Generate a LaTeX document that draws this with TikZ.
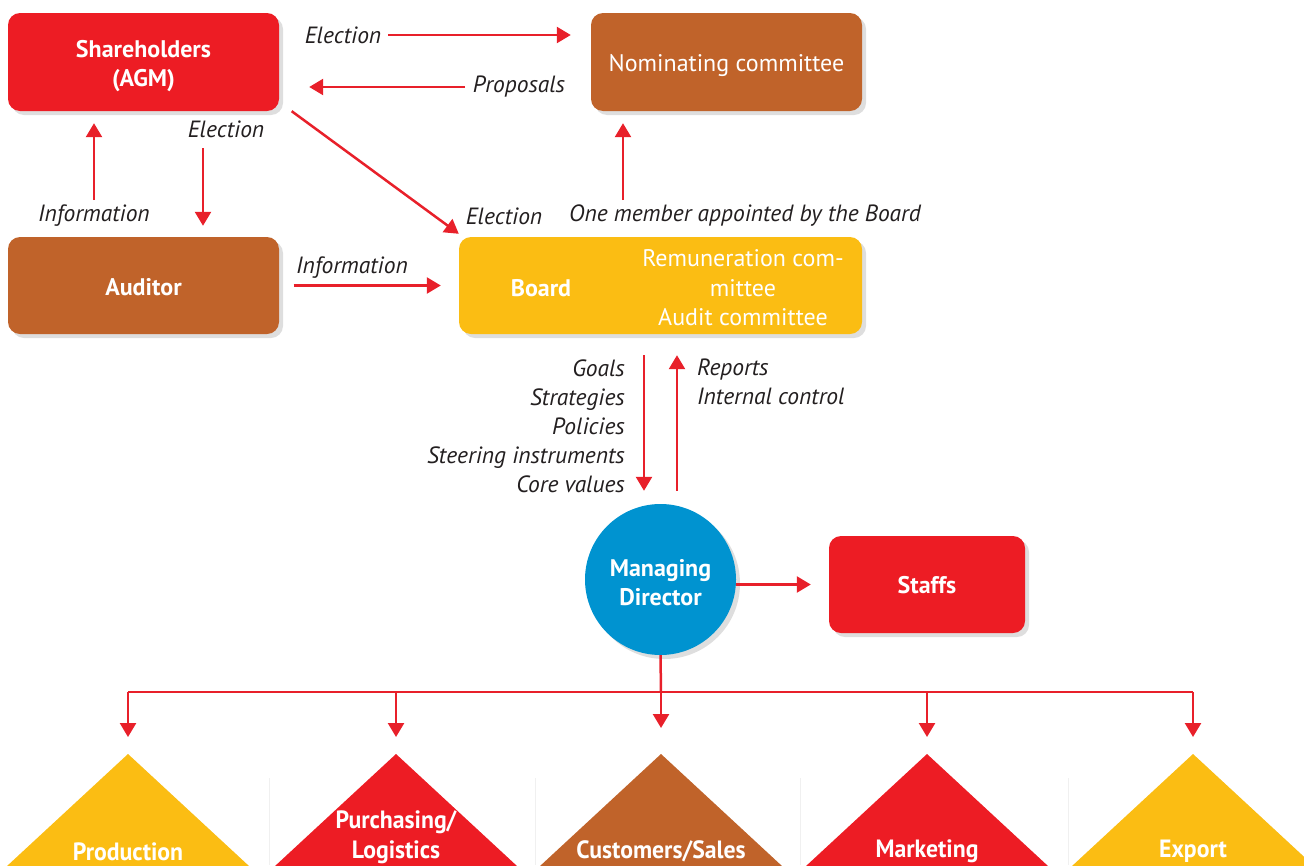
\documentclass[tikz,border=0pt]{standalone}
\usepackage{fontspec}
\setmainfont{PT Sans}
\newfontfamily\condfont[FakeStretch=0.95]{PT Sans}
\usetikzlibrary{arrows.meta,shadows}
\definecolor{cred}{HTML}{ED1C24}
\definecolor{cbrown}{HTML}{C0632A}
\definecolor{cyellow}{HTML}{FBBD13}
\definecolor{cblue}{HTML}{0093D0}
\definecolor{ctext}{HTML}{231F20}
\definecolor{carrow}{HTML}{E8202A}
\tikzset{
  shad/.style={drop shadow={shadow xshift=4pt,shadow yshift=-4pt,opacity=0.13,fill=black}},
  boxnode/.style={rounded corners=12pt, shad, inner sep=0pt},
  boldtxt/.style={text=white, align=center, font=\fontsize{24}{29}\selectfont\bfseries, inner sep=0pt},
  regtxt/.style={text=white, align=center, font=\fontsize{24}{29.5}\selectfont, inner sep=0pt},
  tritxt/.style={text=white, align=center, font=\fontsize{25}{30}\selectfont\condfont\bfseries, inner sep=0pt},
  lab/.style={text=ctext, font=\fontsize{23.5}{29}\selectfont\itshape, inner sep=0pt},
  conn/.style={draw=carrow, line width=2.5pt, -{Triangle[width=16pt,length=14pt]}},
  plainline/.style={draw=carrow, line width=2.5pt},
}
\begin{document}
\begin{tikzpicture}[x=1pt,y=-1pt]
\useasboundingbox (0,0) rectangle (1304,865);
\clip (0,0) rectangle (1304,865);

% boxes
\node[boxnode, fill=cred, minimum width=271pt, minimum height=98pt] (sh) at (143.5,62) {};
\node[boldtxt] (sht) at (143.5,66) {Shareholders\\(AGM)};
\node[boxnode, fill=cbrown, minimum width=271pt, minimum height=98pt] (nc) at (726.5,62) {};
\node[regtxt] (nct) at (726.5,66) {Nominating committee};
\node[boxnode, fill=cbrown, minimum width=271pt, minimum height=97pt] (au) at (143.5,285.5) {};
\node[boldtxt] (aut) at (143.5,287.5) {Auditor};
\node[boxnode, fill=cyellow, minimum width=403pt, minimum height=97pt] (bd) at (660.5,285.5) {};
\node[boldtxt] (bdl) at (541,288) {Board};
\node[regtxt] (bdc) at (743,288) {Remuneration com-\\mittee\\Audit committee};
\node[boxnode, fill=cred, minimum width=196pt, minimum height=97pt] (st) at (927,584.5) {};
\node[boldtxt] (stt) at (927,585.5) {Staffs};
\node[circle, fill=cblue, minimum size=151pt, shad, inner sep=0pt] (md) at (660.5,579.5) {};
\node[boldtxt] (mdt) at (660.5,582.5) {Managing\\Director};

% faint dividers
\foreach \xx in {269,535,800,1068} \draw[black!6, line width=1pt] (\xx,778) -- (\xx,865);

% triangles
\coordinate (t1) at (128,754);
\coordinate (t2) at (396,754);
\coordinate (t3) at (661,754);
\coordinate (t4) at (927,754);
\coordinate (t5) at (1193,754);
\fill[cyellow, shad] (t1) -- ++(-162,150) -- ++(324,0) -- cycle;
\fill[cred, shad] (t2) -- ++(-162,150) -- ++(324,0) -- cycle;
\fill[cbrown, shad] (t3) -- ++(-162,150) -- ++(324,0) -- cycle;
\fill[cred, shad] (t4) -- ++(-162,150) -- ++(324,0) -- cycle;
\fill[cyellow, shad] (t5) -- ++(-162,150) -- ++(324,0) -- cycle;
\node[tritxt] (p1) at (128,851.5) {Production};
\node[tritxt] (p2) at (396,837) {Purchasing/\\Logistics};
\node[tritxt] (p3) at (661,851.5) {Customers/Sales};
\node[tritxt] (p4) at (927,851.5) {Marketing};
\node[tritxt] (p5) at (1193,851.5) {Export};

% labels
\node[lab] (l1) at (343,35) {Election};
\node[lab] (l2) at (519,87) {Proposals};
\node[lab] (l3) at (226,129) {Election};
\node[lab] (l4) at (94,216) {Information};
\node[lab] (l5) at (504,216) {Election};
\node[lab] (l6) at (745,216) {One member appointed by the Board};
\node[lab] (l7) at (352,268) {Information};
\node[lab, align=right, anchor=east] (l8) at (625,426) {Goals\\Strategies\\Policies\\Steering instruments\\Core values};
\node[lab, align=left, anchor=west] (l9) at (697,382) {Reports\\Internal control};

% connectors
\coordinate (c1) at (388,35);
\draw[conn, shorten >=20pt] (c1) -- (c1 -| nc.west);
\coordinate (c2) at (465,87);
\draw[conn, shorten >=30pt] (c2) -- (c2 -| sh.east);
\draw[conn] ([xshift=12.5pt]sh.south east) -- ([yshift=3pt]bd.north west);
\coordinate (c4) at (94,200);
\draw[conn, shorten >=12pt] (c4) -- (c4 |- sh.south);
\coordinate (c5) at (203,148);
\draw[conn, shorten >=11pt] (c5) -- (c5 |- au.north);
\draw[conn, shorten <=14.5pt, shorten >=18pt] (au.east) -- (bd.west);
\coordinate (c7) at (623,200);
\draw[conn, shorten >=12pt] (c7) -- (c7 |- nc.south);
\coordinate (x1) at (644,0);
\coordinate (x2) at (677,0);
\draw[conn, shorten <=21pt, shorten >=13pt] (x1 |- bd.south) -- (x1 |- md.north);
\draw[conn, shorten <=13pt, shorten >=21pt] (x2 |- md.north) -- (x2 |- bd.south);
\draw[conn, shorten >=18pt] (md.east |- st.west) -- (st.west);

\coordinate (bus) at (661,692);
\draw[plainline] (md.south) -- (bus);
\draw[plainline] (t1 |- bus) -- (t5 |- bus);
\draw[conn, shorten >=17pt] (t1 |- bus) -- (t1);
\draw[conn, shorten >=17pt] (t2 |- bus) -- (t2);
\draw[conn, shorten >=26pt] (bus) -- (t3);
\draw[conn, shorten >=17pt] (t4 |- bus) -- (t4);
\draw[conn, shorten >=17pt] (t5 |- bus) -- (t5);
\end{tikzpicture}
\end{document}
